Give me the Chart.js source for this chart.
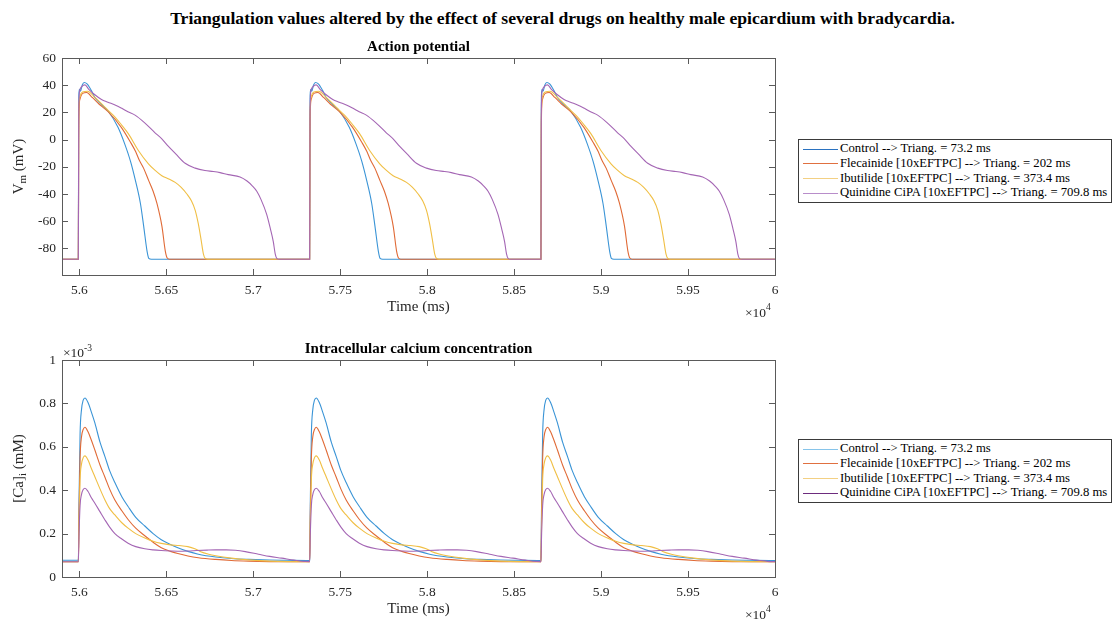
<!DOCTYPE html>
<html>
<head>
<meta charset="utf-8">
<script src="https://cdn.jsdelivr.net/npm/chart.js@4.4.1/dist/chart.umd.min.js"></script>
<style>
  body { margin: 0; background: #fff; width: 1113px; height: 619px; position: relative; overflow: hidden; font-family: "Liberation Serif", "Times New Roman", serif; }
  #mainTitle { position: absolute; left: 6px; top: 8px; width: 1113px; text-align: center; font-weight: bold; font-size: 17.6px; color: #000; }
  canvas { position: absolute; left: 0; }
  #apCanvas { top: 0; }
  #caCanvas { top: 320px; }
  .legend { position: absolute; left: 798px; width: 312px; border: 1px solid #3a3a3a; background: #fff; font-size: 12.7px; color: #000; padding: 1px 0 2px 0; }
  .legend div { height: 14.8px; line-height: 14.8px; white-space: nowrap; }
  .legend .ln { display: inline-block; width: 35px; height: 0; border-top: 1px solid; vertical-align: middle; margin: 0 2px 0 4px; }
</style>
</head>
<body>
<div id="mainTitle">Triangulation values altered by the effect of several drugs on healthy male epicardium with bradycardia.</div>
<canvas id="apCanvas" width="1113" height="320"></canvas>
<canvas id="caCanvas" width="1113" height="299"></canvas>
<div class="legend" id="apLegend" style="top:139px"></div>
<div class="legend" id="caLegend" style="top:439px"></div>
<script>
// series names
const seriesNames = [
  'Control --> Triang. = 73.2 ms',
  'Flecainide [10xEFTPC] --> Triang. = 202 ms',
  'Ibutilide [10xEFTPC] --> Triang. = 373.4 ms',
  'Quinidine CiPA [10xEFTPC] --> Triang. = 709.8 ms'
];

// time of each upstroke (ms), the same beat shape repeats at each one
const beatStarts = [55994, 57324, 58654];
const traceStart = 55900;
const traceEnd = 60000;

// x axis ticks (ms) and labels (x10^4)
const xTickValues = [56000, 56500, 57000, 57500, 58000, 58500, 59000, 59500, 60000];
const xTickLabels = ['5.6', '5.65', '5.7', '5.75', '5.8', '5.85', '5.9', '5.95', '6'];
const apTickValues = [-80, -60, -40, -20, 0, 20, 40, 60];
const caTickValues = [0, 0.2, 0.4, 0.6, 0.8, 1];
const caTickLabels = ['0', '0.2', '0.4', '0.6', '0.8', '1'];

// action potential, [ms after upstroke, mV]
const apControl = [[0,-88],[2,20],[4,35],[7,37],[12,35.5],[22,40],[34,42],[50,41],[75,36],[95,31],[130,26],[171,21],[228,9],[266,-3],[300,-16],[328,-30],[357,-47],[376,-64],[395,-82],[405,-87.3],[420,-88],[1329,-88]];
const apFlecainide = [[0,-88],[2,0],[5,25],[10,30],[25,34],[48,34.6],[80,31],[120,26],[171,20.5],[247,9],[300,-2],[330,-9],[350,-15],[375,-21],[404,-30],[430,-38],[452,-47],[481,-64],[500,-82],[512,-87.3],[525,-88],[1329,-88]];
const apIbutilide = [[0,-88],[2,10],[5,28],[10,32],[25,35],[53,35.6],[95,31],[140,25.5],[171,21.5],[211,16.6],[250,10.5],[288,4.2],[345,-8],[403,-17.8],[440,-22.5],[480,-26.6],[520,-29],[557,-31.5],[590,-35],[624,-40],[650,-45],[672,-52],[690,-62],[705,-73],[719,-84],[730,-87.5],[745,-88],[1329,-88]];
const apQuinidine = [[0,-88],[2,10],[4,30],[8,36],[20,39],[38,40.2],[60,37],[95,33],[133,29.5],[170,27.5],[211,25.5],[250,23],[285,20.5],[326,18],[380,12.5],[441,5],[480,0.5],[518,-5],[560,-10.5],[614,-17.4],[672,-21],[728,-22.8],[776,-23.5],[815,-24.3],[862,-25.8],[930,-27.5],[970,-30.5],[1000,-34],[1026,-38],[1050,-44],[1083,-55],[1105,-66],[1121,-75],[1132,-84],[1142,-87.5],[1155,-88],[1329,-88]];

// intracellular calcium, [ms after upstroke, mM x10^-3]
const caControl = [[0,0.077],[4,0.35],[10,0.66],[18,0.77],[28,0.815],[38,0.825],[55,0.805],[75,0.76],[95,0.71],[125,0.62],[153,0.555],[180,0.49],[210,0.435],[250,0.37],[286,0.325],[330,0.275],[382,0.235],[430,0.2],[477,0.172],[530,0.15],[572,0.135],[630,0.118],[690,0.105],[790,0.092],[880,0.085],[980,0.081],[1100,0.078],[1200,0.077],[1329,0.076]];
const caFlecainide = [[0,0.07],[4,0.3],[10,0.55],[18,0.645],[28,0.68],[38,0.69],[55,0.67],[75,0.63],[95,0.585],[125,0.515],[153,0.46],[180,0.405],[210,0.355],[250,0.305],[286,0.265],[330,0.225],[382,0.19],[430,0.16],[477,0.135],[530,0.118],[572,0.108],[630,0.097],[690,0.089],[790,0.081],[880,0.076],[980,0.073],[1100,0.071],[1329,0.07]];
const caIbutilide = [[0,0.07],[4,0.25],[10,0.45],[18,0.52],[28,0.55],[38,0.558],[55,0.54],[75,0.5],[95,0.462],[125,0.405],[153,0.355],[180,0.315],[210,0.286],[250,0.25],[286,0.225],[330,0.2],[382,0.18],[430,0.165],[477,0.155],[530,0.148],[580,0.145],[630,0.14],[670,0.13],[700,0.118],[750,0.105],[790,0.098],[880,0.087],[980,0.079],[1100,0.073],[1329,0.07]];
const caQuinidine = [[0,0.07],[4,0.2],[10,0.33],[18,0.38],[28,0.403],[38,0.409],[55,0.395],[75,0.365],[95,0.34],[125,0.3],[153,0.263],[180,0.23],[210,0.2],[250,0.175],[286,0.156],[330,0.14],[382,0.13],[430,0.125],[477,0.122],[530,0.12],[572,0.119],[630,0.12],[680,0.122],[740,0.124],[790,0.125],[850,0.125],[903,0.123],[960,0.117],[1036,0.105],[1100,0.095],[1169,0.087],[1240,0.078],[1302,0.072],[1329,0.071]];

const lineColors = ['#3a94d6', '#e06a36', '#f0bf45', '#a466b4'];
const apLegendColors = ['#2a72c0', '#e07040', '#f3d083', '#b88dca'];
const caLegendColors = ['#86c4ea', '#e07040', '#f3d083', '#6d2c7e'];
const FONT = '"Liberation Serif", "Times New Roman", serif';

function buildTrace(shape) {
  const pts = [{ x: traceStart, y: shape[0][1] }];
  beatStarts.forEach(b => shape.forEach(([dt, v]) => pts.push({ x: b + dt, y: v })));
  pts.push({ x: traceEnd, y: shape[shape.length - 1][1] });
  return pts;
}

// draws the matlab style box, inner ticks, titles and labels
const matlabAxes = {
  id: 'matlabAxes',
  afterDraw(chart, args, opts) {
    const { ctx, chartArea: a } = chart;
    const xs = chart.scales.x, ys = chart.scales.y;
    const cx = (a.left + a.right) / 2;
    ctx.save();
    ctx.strokeStyle = '#5a5a5a';
    ctx.lineWidth = 1;
    ctx.strokeRect(Math.round(a.left) + 0.5, Math.round(a.top) + 0.5, Math.round(a.width), Math.round(a.height));
    ctx.beginPath();
    xs.ticks.forEach(t => {
      const p = Math.round(xs.getPixelForValue(t.value)) + 0.5;
      ctx.moveTo(p, a.bottom); ctx.lineTo(p, a.bottom - 6);
      ctx.moveTo(p, a.top); ctx.lineTo(p, a.top + 6);
    });
    ys.ticks.forEach(t => {
      const p = Math.round(ys.getPixelForValue(t.value)) + 0.5;
      ctx.moveTo(a.left, p); ctx.lineTo(a.left + 6, p);
      ctx.moveTo(a.right, p); ctx.lineTo(a.right - 6, p);
    });
    ctx.stroke();

    ctx.fillStyle = '#000';
    ctx.textAlign = 'center';
    ctx.textBaseline = 'middle';
    ctx.font = 'bold 15px ' + FONT;
    ctx.fillText(opts.title, cx, a.top - 11);

    ctx.fillStyle = '#262626';
    ctx.font = '15px ' + FONT;
    ctx.fillText('Time (ms)', cx, a.bottom + 32);

    // x10^4 under the right end
    ctx.textAlign = 'left';
    ctx.font = '13.5px ' + FONT;
    const w = ctx.measureText('\u00d710').width;
    ctx.fillText('\u00d710', a.right - 30, a.bottom + 38);
    ctx.font = '9.5px ' + FONT;
    ctx.fillText('4', a.right - 30 + w, a.bottom + 32);

    if (opts.yExp) {
      ctx.font = '13.5px ' + FONT;
      const w2 = ctx.measureText('\u00d710').width;
      ctx.fillText('\u00d710', a.left + 1, a.top - 7);
      ctx.font = '9.5px ' + FONT;
      ctx.fillText(opts.yExp, a.left + 1 + w2, a.top - 12);
    }

    // rotated y label with subscript
    ctx.translate(a.left - 43, (a.top + a.bottom) / 2);
    ctx.rotate(-Math.PI / 2);
    const parts = opts.yLabel;
    let total = 0;
    parts.forEach(p => { ctx.font = (p.sub ? '11px ' : '15px ') + FONT; p.w = ctx.measureText(p.t).width; total += p.w; });
    let pos = -total / 2;
    parts.forEach(p => {
      ctx.font = (p.sub ? '11px ' : '15px ') + FONT;
      ctx.fillText(p.t, pos, p.sub ? 4 : 0);
      pos += p.w;
    });
    ctx.restore();
  }
};

function makeChart(canvasId, shapes, yMin, yMax, yTicks, yLabels, canvasH, areaTop, areaBottom, decor) {
  const ctx = document.getElementById(canvasId).getContext('2d');
  return new Chart(ctx, {
    type: 'line',
    data: {
      datasets: shapes.map((s, i) => ({
        label: seriesNames[i],
        data: buildTrace(s),
        borderColor: lineColors[i],
        borderWidth: 1.1,
        pointRadius: 0,
        cubicInterpolationMode: 'monotone',
        order: shapes.length - i
      }))
    },
    options: {
      responsive: false,
      animation: false,
      layout: { padding: { left: 0, right: 1113 - 775, top: areaTop, bottom: 0 } },
      plugins: { legend: { display: false }, tooltip: { enabled: false }, matlabAxes: decor },
      scales: {
        x: {
          type: 'linear', min: traceStart, max: traceEnd,
          grid: { display: false, drawTicks: false },
          border: { display: false },
          afterBuildTicks: sc => { sc.ticks = xTickValues.map(v => ({ value: v })); },
          afterFit: sc => { sc.height = canvasH - areaBottom; },
          ticks: { autoSkip: false, maxRotation: 0, padding: 7, color: '#262626', font: { family: FONT, size: 13.5 },
            callback: (v, i) => xTickLabels[i] }
        },
        y: {
          type: 'linear', min: yMin, max: yMax,
          grid: { display: false, drawTicks: false },
          border: { display: false },
          afterBuildTicks: sc => { sc.ticks = yTicks.map(v => ({ value: v })); },
          afterFit: sc => { sc.width = 62; },
          ticks: { autoSkip: false, padding: 6, color: '#262626', font: { family: FONT, size: 13.5 },
            callback: (v, i) => yLabels[i] }
        }
      }
    },
    plugins: [matlabAxes]
  });
}

function makeLegend(id, colors) {
  document.getElementById(id).innerHTML = seriesNames.map((n, i) =>
    `<div><span class="ln" style="border-color:${colors[i]}"></span>${n.replace(/>/g, '&gt;')}</div>`).join('');
}

makeChart('apCanvas', [apControl, apFlecainide, apIbutilide, apQuinidine], -99.6, 60,
  apTickValues, apTickValues.map(String), 320, 58, 275,
  { title: 'Action potential', yLabel: [{ t: 'V' }, { t: 'm', sub: true }, { t: ' (mV)' }] });
makeChart('caCanvas', [caControl, caFlecainide, caIbutilide, caQuinidine], 0, 1,
  caTickValues, caTickLabels, 299, 40, 257,
  { title: 'Intracellular calcium concentration', yLabel: [{ t: '[Ca]' }, { t: 'i', sub: true }, { t: ' (mM)' }], yExp: '-3' });
makeLegend('apLegend', apLegendColors);
makeLegend('caLegend', caLegendColors);
</script>
</body>
</html>
